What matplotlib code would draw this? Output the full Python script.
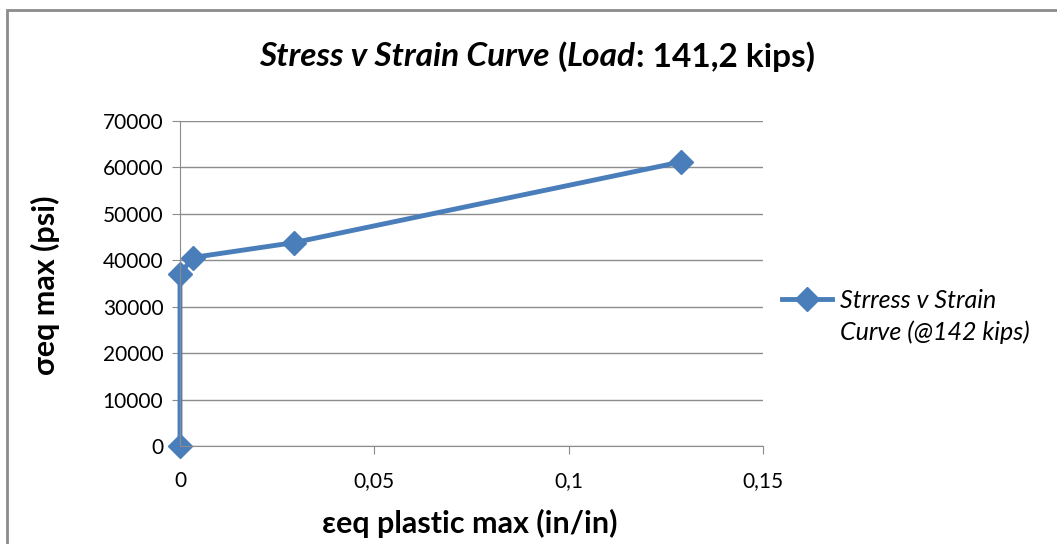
import matplotlib.pyplot as plt
from matplotlib.patches import Rectangle
from matplotlib.ticker import FuncFormatter

# strain (in/in) and stress (psi)
strain = [0.0, 0.0, 0.0033, 0.0293, 0.129]
stress = [0, 37000, 40600, 43800, 61200]

xticks = [0, 0.05, 0.1, 0.15]
yticks = [0, 10000, 20000, 30000, 40000, 50000, 60000, 70000]

title_parts = [('Stress v Strain Curve', 'italic'), (' (', 'normal'),
               ('Load', 'italic'), (': 141,2 kips)', 'normal')]
legend_lines = ['Strress v Strain', 'Curve (@142 kips)']

blue = '#4A7EBB'
plt.rcParams['font.family'] = ['Lato', 'DejaVu Sans']

fig = plt.figure(figsize=(10.57, 5.44), dpi=100)
# outer chart frame
fig.patches.append(Rectangle((7 / 1057, -0.1), 1.2, 1 - 10 / 544 + 0.1,
                             transform=fig.transFigure, fill=False,
                             edgecolor='#8c8c8c', linewidth=2))
ax = fig.add_axes([180 / 1057, 98 / 544, 583 / 1057, 325 / 544])

ax.plot(strain, stress, color=blue, linewidth=3.5, marker='D', markersize=12,
        markerfacecolor=blue, markeredgecolor=blue, clip_on=False,
        label=legend_lines[0])

ax.set_xlim(0, 0.15)
ax.set_ylim(0, 70000)
ax.set_xticks(xticks)
ax.set_yticks(yticks)
ax.xaxis.set_major_formatter(FuncFormatter(lambda v, p: ('%g' % v).replace('.', ',')))
ax.grid(axis='y', color='#8c8c8c', linewidth=1)
ax.set_axisbelow(True)
for s in ['top', 'right']:
    ax.spines[s].set_visible(False)
for s in ['left', 'bottom']:
    ax.spines[s].set_color('#8c8c8c')
ax.tick_params(axis='both', colors='#8c8c8c', labelcolor='black', labelsize=15,
               length=6, direction='out')
ax.tick_params(axis='x', pad=12)
ax.tick_params(axis='y', pad=6)

fig.text(470 / 1057, 1 - 523 / 544, 'εeq plastic max (in/in)', ha='center',
         va='center', fontsize=22, fontweight='bold')
fig.text(45 / 1057, 1 - 285 / 544, 'σeq max (psi)', ha='center', va='center',
         rotation=90, fontsize=22, fontweight='bold')

# title built from pieces so italic and upright parts share one font
fig.canvas.draw()
r = fig.canvas.get_renderer()
texts = []
for s, st in title_parts:
    t = fig.text(0, 1 - 57 / 544, s, ha='left', va='center', fontsize=24,
                 fontweight='bold', fontstyle=st)
    texts.append(t)
widths = [t.get_window_extent(r).width for t in texts]
x = 537 - sum(widths) / 2
for t, w in zip(texts, widths):
    t.set_x(x / 1057)
    x += w

# legend: handle sits on the first line, second line wraps below
leg = ax.legend(loc='center left', bbox_to_anchor=(1.0, (446 - 300) / 325),
                frameon=False, fontsize=18, handlelength=2.0, handletextpad=0.3,
                borderaxespad=0.78, borderpad=0)
for t in leg.get_texts():
    t.set_fontstyle('italic')
fig.canvas.draw()
x0 = leg.get_texts()[0].get_window_extent(r).x0
fig.text(x0 / 1057, 1 - 332 / 544, legend_lines[1], ha='left', va='center',
         fontsize=18, fontstyle='italic')

fig.savefig('out.png', dpi=100)
